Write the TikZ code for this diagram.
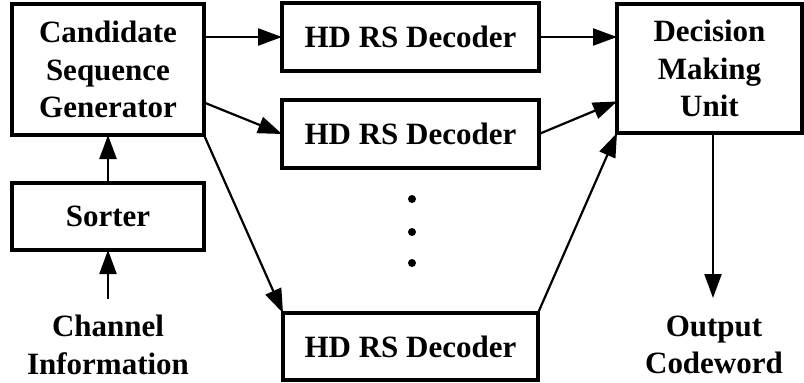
\documentclass[tikz,border=0pt]{standalone}
\usepackage{fontspec}
\setmainfont{Liberation Serif}
\usetikzlibrary{arrows.meta}
\begin{document}
\begin{tikzpicture}[x=1pt,y=-1pt,
  blk/.style={draw,line width=4pt,outer sep=0pt,inner sep=0pt,align=center,
    font=\fontsize{31}{37.5}\selectfont\bfseries},
  lbl/.style={align=center,inner sep=0pt,font=\fontsize{31}{37.5}\selectfont\bfseries},
  arr/.style={line width=2.2pt,-{Triangle[length=24pt,width=17pt]}},
  ln/.style={line width=2.2pt},
  dotn/.style={circle,fill,inner sep=0pt,minimum size=8pt}]
\useasboundingbox (0,0) rectangle (804,383);
\node[blk,minimum width=192pt,minimum height=131pt] (csg) at (108,69.5) {Candidate\\Sequence\\Generator};
\node[blk,minimum width=192pt,minimum height=67pt] (sort) at (108,216.5) {Sorter};
\node[lbl] (chan) at (108,345) {Channel\\Information};
\coordinate (chtop) at (108,299);
\node[blk,minimum width=257pt,minimum height=68pt] (hd1) at (410.5,37) {HD RS Decoder};
\node[blk,minimum width=257pt,minimum height=68pt] (hd2) at (410.5,134) {HD RS Decoder};
\node[blk,minimum width=255pt,minimum height=67pt] (hd3) at (410.5,346.5) {HD RS Decoder};
\node[blk,minimum width=185pt,minimum height=129pt] (dmu) at (709.5,68.5) {Decision\\Making\\Unit};
\node[lbl] (out) at (714,345) {Output\\Codeword};
\coordinate (outtop) at (713,298);
\coordinate (dmuout) at (713,133);
\node[dotn] (d1) at (412,199) {};
\node[dotn] (d2) at (412,232) {};
\node[dotn] (d3) at (412,263) {};
\draw[arr] (chtop) -- (sort.south);
\draw[arr] (sort.north) -- (csg.south);
\draw[arr] (csg.east |- hd1.west) -- (hd1.west);
\draw[arr] ([yshift=-33pt]csg.east) -- (hd2.west);
\draw[arr] (csg.south east) -- (hd3.north west);
\draw[arr] (hd1.east) -- (dmu.west |- hd1.east);
\draw[arr] (hd2.east) -- ([yshift=-33pt]dmu.west);
\draw[arr] (hd3.north east) -- (dmu.south west);
\draw[arr] (dmuout) -- (outtop);
\end{tikzpicture}
\end{document}
